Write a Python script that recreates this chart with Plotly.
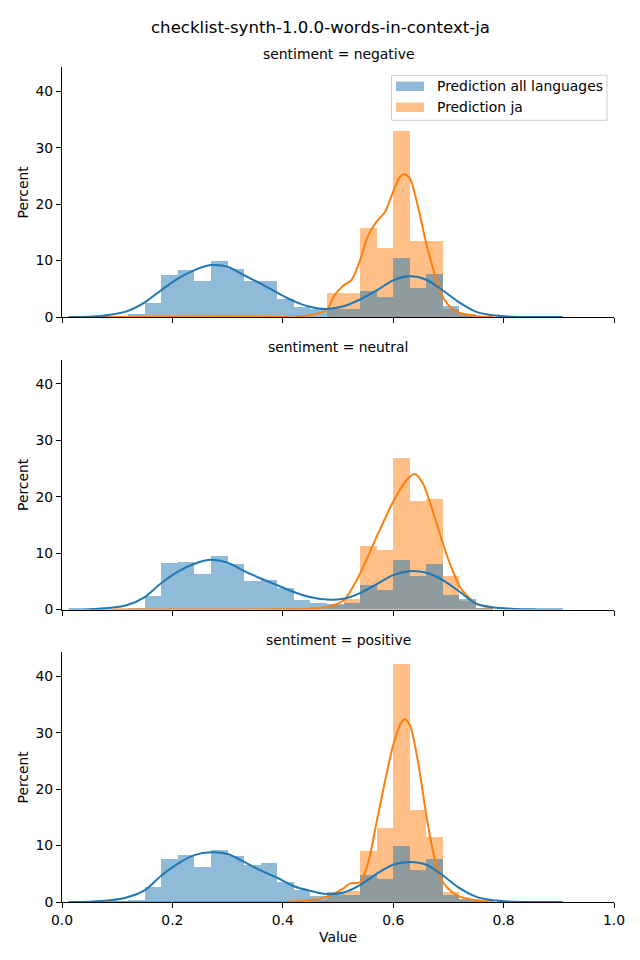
import plotly.graph_objects as go

# ---------------- data ----------------
bin_left = [0.09, 0.12, 0.15, 0.18, 0.21, 0.24, 0.27, 0.30, 0.33, 0.36, 0.39, 0.42,
            0.45, 0.48, 0.51, 0.54, 0.57, 0.60, 0.63, 0.66, 0.69, 0.72, 0.75]
bin_width = 0.03
panels = ["negative", "neutral", "positive"]
legend_labels = ["Prediction all languages", "Prediction ja"]

all_neg = [0.2, 0.6, 2.4, 7.4, 8.3, 6.3, 9.9, 8.5, 6.3, 6.3, 3.2, 1.8,
           1.4, 1.4, 1.4, 4.6, 3.5, 10.5, 5.1, 7.6, 1.9, 0.5, 0.1]
ja_neg = [0.0, 0.0, 0.0, 0.0, 0.0, 0.0, 0.0, 0.0, 0.0, 0.1, 0.0, 0.0,
          0.0, 4.3, 4.3, 15.8, 12.3, 33.0, 13.4, 13.4, 1.4, 0.4, 0.1]

all_neu = [0.1, 0.4, 2.5, 8.3, 8.5, 6.4, 9.6, 8.1, 5.2, 5.3, 3.9, 1.8,
           1.2, 1.0, 1.3, 4.5, 3.6, 8.9, 6.0, 8.1, 2.7, 2.0, 0.4]
ja_neu = [0.0, 0.0, 0.0, 0.0, 0.0, 0.0, 0.0, 0.0, 0.0, 0.0, 0.0, 0.0,
          0.1, 0.9, 2.0, 11.4, 10.7, 26.9, 19.4, 19.6, 6.0, 1.6, 0.4]

all_pos = [0.1, 0.3, 2.7, 7.6, 8.3, 6.2, 9.3, 8.1, 6.6, 6.9, 3.5, 2.1,
           1.1, 1.7, 1.3, 4.7, 4.0, 9.9, 5.6, 7.6, 1.3, 0.5, 0.1]
ja_pos = [0.0, 0.0, 0.0, 0.0, 0.0, 0.0, 0.0, 0.0, 0.0, 0.0, 0.0, 0.0,
          0.3, 1.3, 2.0, 9.0, 13.1, 42.2, 16.3, 11.5, 1.7, 0.4, 0.1]

# KDE curves (x, percent)
kde_all_x = [0.012, 0.05, 0.087, 0.117, 0.150, 0.179, 0.210, 0.240, 0.270, 0.300, 0.330,
             0.360, 0.390, 0.420, 0.449, 0.479, 0.510, 0.540, 0.570, 0.600, 0.630,
             0.660, 0.690, 0.721, 0.751, 0.780, 0.820, 0.860, 0.907]
kde_all_neg = [0.0, 0.05, 0.4, 1.0, 2.6, 4.7, 6.8, 8.3, 9.2, 8.9, 7.4,
               5.9, 4.3, 2.8, 1.8, 1.4, 1.9, 3.1, 4.7, 6.5, 7.2,
               6.6, 4.7, 2.5, 0.9, 0.3, 0.05, 0.0, 0.0]
kde_all_neu = [0.0, 0.05, 0.3, 0.75, 2.2, 4.6, 6.7, 8.1, 8.8, 8.3, 6.8,
               5.5, 4.3, 3.1, 2.2, 1.75, 1.9, 2.9, 4.5, 6.1, 6.8,
               6.5, 5.2, 3.1, 1.0, 0.4, 0.1, 0.02, 0.0]
kde_all_pos = [0.0, 0.05, 0.3, 0.8, 2.1, 4.6, 6.8, 8.3, 8.8, 8.5, 7.1,
               5.6, 4.3, 2.8, 2.0, 1.4, 1.7, 3.0, 5.0, 6.6, 7.1,
               6.6, 4.7, 2.4, 0.9, 0.3, 0.05, 0.0, 0.0]

kde_ja_neg_x = [0.05, 0.30, 0.42, 0.449, 0.479, 0.494, 0.510, 0.525, 0.540, 0.555, 0.570,
                0.585, 0.600, 0.612, 0.620, 0.630, 0.645, 0.660, 0.675, 0.690, 0.706,
                0.721, 0.751, 0.780]
kde_ja_neg = [0.0, 0.05, 0.05, 0.3, 1.2, 3.9, 5.6, 6.6, 10.1, 14.5, 16.9,
              18.6, 22.2, 24.8, 25.3, 24.6, 19.5, 13.0, 7.7, 3.5, 1.5,
              0.7, 0.15, 0.0]

kde_ja_neu_x = [0.05, 0.30, 0.42, 0.449, 0.479, 0.510, 0.540, 0.570, 0.600, 0.624, 0.639,
                0.654, 0.675, 0.690, 0.706, 0.721, 0.736, 0.751, 0.780]
kde_ja_neu = [0.0, 0.02, 0.05, 0.15, 0.45, 1.6, 6.4, 12.9, 19.1, 22.9, 24.0,
              22.3, 16.4, 11.7, 7.3, 4.0, 2.2, 1.0, 0.2]

kde_ja_pos_x = [0.05, 0.30, 0.42, 0.449, 0.479, 0.510, 0.522, 0.540, 0.555, 0.570, 0.585,
                0.600, 0.615, 0.621, 0.630, 0.645, 0.660, 0.675, 0.690, 0.706, 0.721,
                0.751, 0.780]
kde_ja_pos = [0.0, 0.02, 0.05, 0.3, 0.9, 2.4, 3.3, 3.5, 7.1, 14.2, 21.3,
              27.8, 31.9, 32.4, 31.4, 24.8, 15.4, 7.7, 3.5, 1.8, 0.9,
              0.3, 0.05]

series_all = [all_neg, all_neu, all_pos]
series_ja = [ja_neg, ja_neu, ja_pos]
kde_all = [kde_all_neg, kde_all_neu, kde_all_pos]
kde_ja_x = [kde_ja_neg_x, kde_ja_neu_x, kde_ja_pos_x]
kde_ja = [kde_ja_neg, kde_ja_neu, kde_ja_pos]

x_ticks = [0.0, 0.2, 0.4, 0.6, 0.8, 1.0]
y_ticks = [0, 10, 20, 30, 40]

# ---------------- styling ----------------
W, H = 640, 960
BLUE = "#1f77b4"
ORANGE = "#ff7f0e"
BLUE_A = "rgba(31,119,180,0.5)"
ORANGE_A = "rgba(255,127,14,0.5)"
FONT = "DejaVu Sans"
FS = 13.9

x_left, x_right = 62, 614
y_top, y_bot = 66.7, 901.7
PW, PH = x_right - x_left, y_bot - y_top
panel_px = [(66.7, 316.7), (359.2, 609.2), (651.7, 901.7)]  # top, bottom in px


def px_x(px):
    return (px - x_left) / PW


def px_y(py):
    return (y_bot - py) / PH


fig = go.Figure()
centers = [b + bin_width / 2 for b in bin_left]

for i in range(3):
    xa = "x" if i == 0 else f"x{i+1}"
    ya = "y" if i == 0 else f"y{i+1}"
    fig.add_trace(go.Bar(x=centers, y=series_ja[i], width=bin_width,
                         marker=dict(color=ORANGE_A, line=dict(width=0)),
                         name=legend_labels[1], showlegend=False, xaxis=xa, yaxis=ya))
    fig.add_trace(go.Bar(x=centers, y=series_all[i], width=bin_width,
                         marker=dict(color=BLUE_A, line=dict(width=0)),
                         name=legend_labels[0], showlegend=False, xaxis=xa, yaxis=ya))
    fig.add_trace(go.Scatter(x=kde_ja_x[i], y=kde_ja[i], mode="lines",
                             line=dict(color=ORANGE, width=2, shape="spline", smoothing=0.8),
                             showlegend=False, xaxis=xa, yaxis=ya))
    fig.add_trace(go.Scatter(x=kde_all_x, y=kde_all[i], mode="lines",
                             line=dict(color=BLUE, width=2, shape="spline", smoothing=0.8),
                             showlegend=False, xaxis=xa, yaxis=ya))

axis_common = dict(showline=True, linecolor="black", linewidth=1, ticks="outside",
                   ticklen=5, tickwidth=1, tickcolor="black", showgrid=False,
                   zeroline=False, automargin=False,
                   tickfont=dict(family=FONT, size=FS, color="black"))

layout = dict(
    width=W, height=H,
    margin=dict(l=x_left, r=W - x_right, t=y_top, b=H - y_bot, autoexpand=False),
    paper_bgcolor="white", plot_bgcolor="white", barmode="overlay", bargap=0,
    font=dict(family=FONT, size=FS, color="black"),
    showlegend=False,
)

for i in range(3):
    top, bot = panel_px[i]
    xk = "xaxis" if i == 0 else f"xaxis{i+1}"
    yk = "yaxis" if i == 0 else f"yaxis{i+1}"
    ya = "y" if i == 0 else f"y{i+1}"
    xa = "x" if i == 0 else f"x{i+1}"
    layout[xk] = dict(axis_common, domain=[0, 1], range=[0, 1],
                      tickvals=x_ticks, ticktext=[f"{v:.1f}" for v in x_ticks],
                      showticklabels=(i == 2), anchor=ya)
    layout[yk] = dict(axis_common, domain=[px_y(bot), px_y(top)], range=[0, 44.3],
                      tickvals=y_ticks, anchor=xa)

fig.update_layout(**layout)

txt = dict(xref="paper", yref="paper", showarrow=False,
           font=dict(family=FONT, size=FS, color="black"))
annotations = [dict(txt, text="checklist-synth-1.0.0-words-in-context-ja", x=px_x(320),
                    y=px_y(27), xanchor="center", yanchor="middle",
                    font=dict(family=FONT, size=16.6, color="black"))]
for i, name in enumerate(panels):
    top, bot = panel_px[i]
    annotations.append(dict(txt, text=f"sentiment = {name}", x=0.5, y=px_y(top - 12.5),
                            xanchor="center", yanchor="middle"))
    annotations.append(dict(txt, text="Percent", x=px_x(22.5), y=px_y((top + bot) / 2),
                            xanchor="center", yanchor="middle", textangle=-90))
annotations.append(dict(txt, text="Value", x=0.5, y=px_y(937),
                        xanchor="center", yanchor="middle"))

# legend (matplotlib style, inside first panel)
shapes = [dict(type="rect", xref="paper", yref="paper", layer="above",
               x0=px_x(391.5), x1=px_x(607), y0=px_y(120), y1=px_y(75),
               fillcolor="rgba(255,255,255,0.8)", line=dict(color="#cccccc", width=1))]
for k, (lab, col) in enumerate(zip(legend_labels, [BLUE_A, ORANGE_A])):
    cy = 86 + 21 * k
    shapes.append(dict(type="rect", xref="paper", yref="paper", layer="above",
                       x0=px_x(396), x1=px_x(424), y0=px_y(cy + 4.7), y1=px_y(cy - 4.7),
                       fillcolor=col, line=dict(width=0)))
    annotations.append(dict(txt, text=lab, x=px_x(434.5), y=px_y(cy),
                            xanchor="left", yanchor="middle"))

fig.update_layout(annotations=annotations, shapes=shapes)

fig.write_html("out.html", config={"displayModeBar": False},
               post_script="document.body.style.margin='0';")
